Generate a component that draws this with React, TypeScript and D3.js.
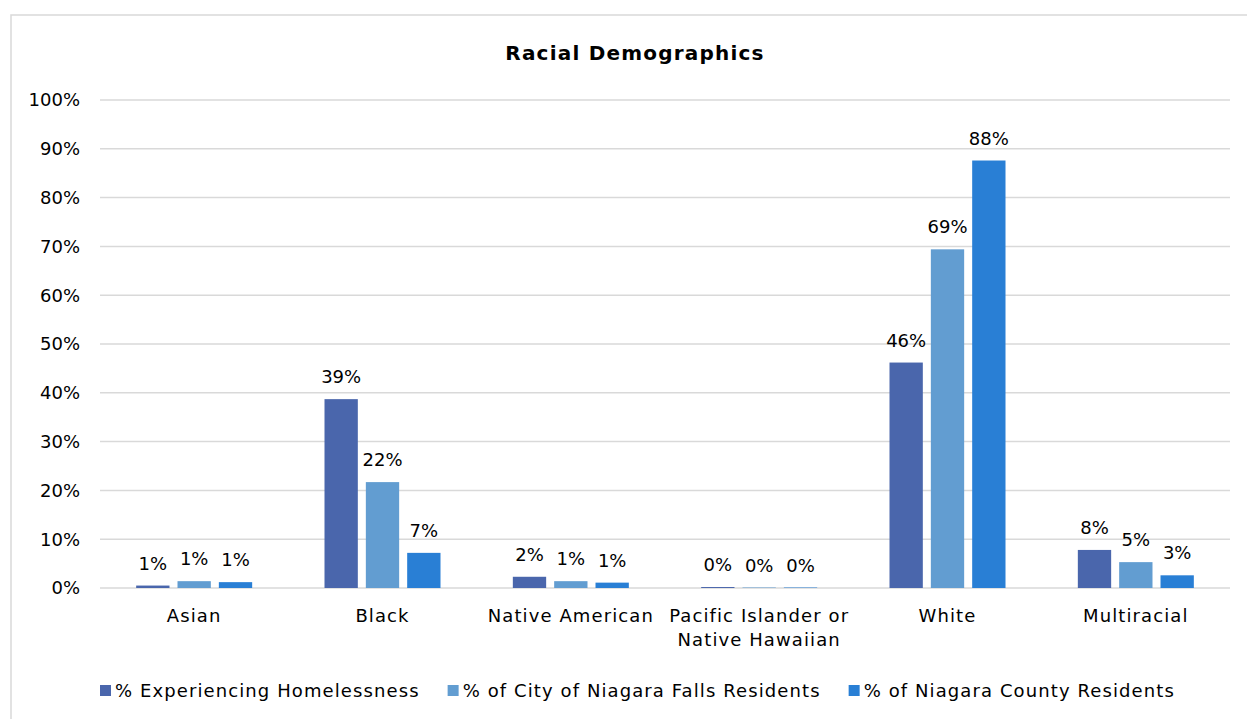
import React, { useEffect, useRef } from "react";
import * as d3 from "d3";

const categories = ["Asian", "Black", "Native American", "Pacific Islander or Native Hawaiian", "White", "Multiracial"];
const seriesNames = ["% Experiencing Homelessness", "% of City of Niagara Falls Residents", "% of Niagara County Residents"];
const homeless = [0.5, 38.7, 2.3, 0.2, 46.2, 7.8];
const cityResidents = [1.4, 21.7, 1.4, 0.1, 69.4, 5.3];
const countyResidents = [1.2, 7.2, 1.1, 0.1, 87.6, 2.6];
const yTicks = [0, 10, 20, 30, 40, 50, 60, 70, 80, 90, 100];
const colors = ["#4a66ac", "#629dd1", "#297fd5"];

const W = 1247;
const H = 719;
const FONT = "'DejaVu Sans', sans-serif";

export default function App() {
  const ref = useRef<SVGSVGElement | null>(null);

  useEffect(() => {
    const svg = d3.select(ref.current);
    svg.selectAll("*").remove();

    const plot = { left: 100, right: 1230, top: 100, bottom: 588 };
    const values = [homeless, cityResidents, countyResidents];

    // chart border
    svg.append("rect").attr("x", 11).attr("y", 15).attr("width", 1260).attr("height", 720)
      .attr("fill", "#fff").attr("stroke", "#d9d9d9").attr("stroke-width", 1.5);

    // title
    svg.append("text").attr("x", 635).attr("y", 60).attr("text-anchor", "middle")
      .attr("font-family", FONT).attr("font-weight", "bold").attr("font-size", 20)
      .attr("letter-spacing", 1.2).attr("fill", "#000")
      .text("Racial Demographics");

    const y = d3.scaleLinear().domain([0, 100]).range([plot.bottom, plot.top]);
    const x0 = d3.scaleBand<string>().domain(categories).range([plot.left, plot.right]).padding(0);
    const groupW = 116;
    const x1 = d3.scaleBand<string>().domain(seriesNames).range([0, groupW]).paddingInner(0.194).paddingOuter(0);

    // gridlines
    svg.append("g").selectAll("line").data(yTicks).join("line")
      .attr("x1", plot.left).attr("x2", plot.right)
      .attr("y1", (d) => y(d)).attr("y2", (d) => y(d))
      .attr("stroke", "#d9d9d9").attr("stroke-width", 1.5);

    // y tick labels
    svg.append("g").selectAll("text").data(yTicks).join("text")
      .attr("x", 80).attr("y", (d) => y(d)).attr("dy", "0.35em").attr("text-anchor", "end")
      .attr("font-family", FONT).attr("font-size", 18).attr("fill", "#000")
      .text((d) => `${d}%`);

    // bars
    const bandOffset = (x0.bandwidth() - groupW) / 2;
    const bars = svg.append("g");
    values.forEach((vals, si) => {
      const g = bars.append("g");
      g.selectAll("rect").data(vals).join("rect")
        .attr("x", (_d, i) => (x0(categories[i]) as number) + bandOffset + (x1(seriesNames[si]) as number))
        .attr("y", (d) => y(d))
        .attr("width", x1.bandwidth())
        .attr("height", (d) => y(0) - y(d))
        .attr("fill", colors[si]);
      g.selectAll("text").data(vals).join("text")
        .attr("x", (_d, i) => (x0(categories[i]) as number) + bandOffset + (x1(seriesNames[si]) as number) + x1.bandwidth() / 2)
        .attr("y", (d) => y(d) - 16)
        .attr("text-anchor", "middle")
        .attr("font-family", FONT).attr("font-size", 18).attr("fill", "#000")
        .text((d) => `${Math.round(d)}%`);
    });

    // category labels with wrapping
    const catG = svg.append("g");
    categories.forEach((c) => {
      const cx = (x0(c) as number) + x0.bandwidth() / 2;
      const t = catG.append("text").attr("x", cx).attr("y", 622).attr("text-anchor", "middle")
        .attr("font-family", FONT).attr("font-size", 18).attr("letter-spacing", 1.1).attr("fill", "#000");
      const words = c.split(" ");
      let line: string[] = [];
      let lineNo = 0;
      let tspan = t.append("tspan").attr("x", cx).attr("y", 622);
      words.forEach((w) => {
        line.push(w);
        tspan.text(line.join(" "));
        if ((tspan.node() as SVGTextContentElement).getComputedTextLength() > x0.bandwidth() + 2 && line.length > 1) {
          line.pop();
          tspan.text(line.join(" "));
          line = [w];
          lineNo += 1;
          tspan = t.append("tspan").attr("x", cx).attr("y", 622 + lineNo * 24).text(w);
        }
      });
    });

    // legend
    const legend = svg.append("g");
    let lx = 100;
    seriesNames.forEach((name, i) => {
      legend.append("rect").attr("x", lx).attr("y", 685).attr("width", 11).attr("height", 11).attr("fill", colors[i]);
      const t = legend.append("text").attr("x", lx + 15).attr("y", 697)
        .attr("font-family", FONT).attr("font-size", 18).attr("letter-spacing", 1.1).attr("fill", "#000").text(name);
      const w = (t.node() as SVGTextContentElement).getComputedTextLength();
      lx = lx + 15 + w + 28;
    });
  }, []);

  return (
    <svg ref={ref} width={W} height={H} style={{ position: "absolute", left: 0, top: 0, background: "#fff" }} />
  );
}
